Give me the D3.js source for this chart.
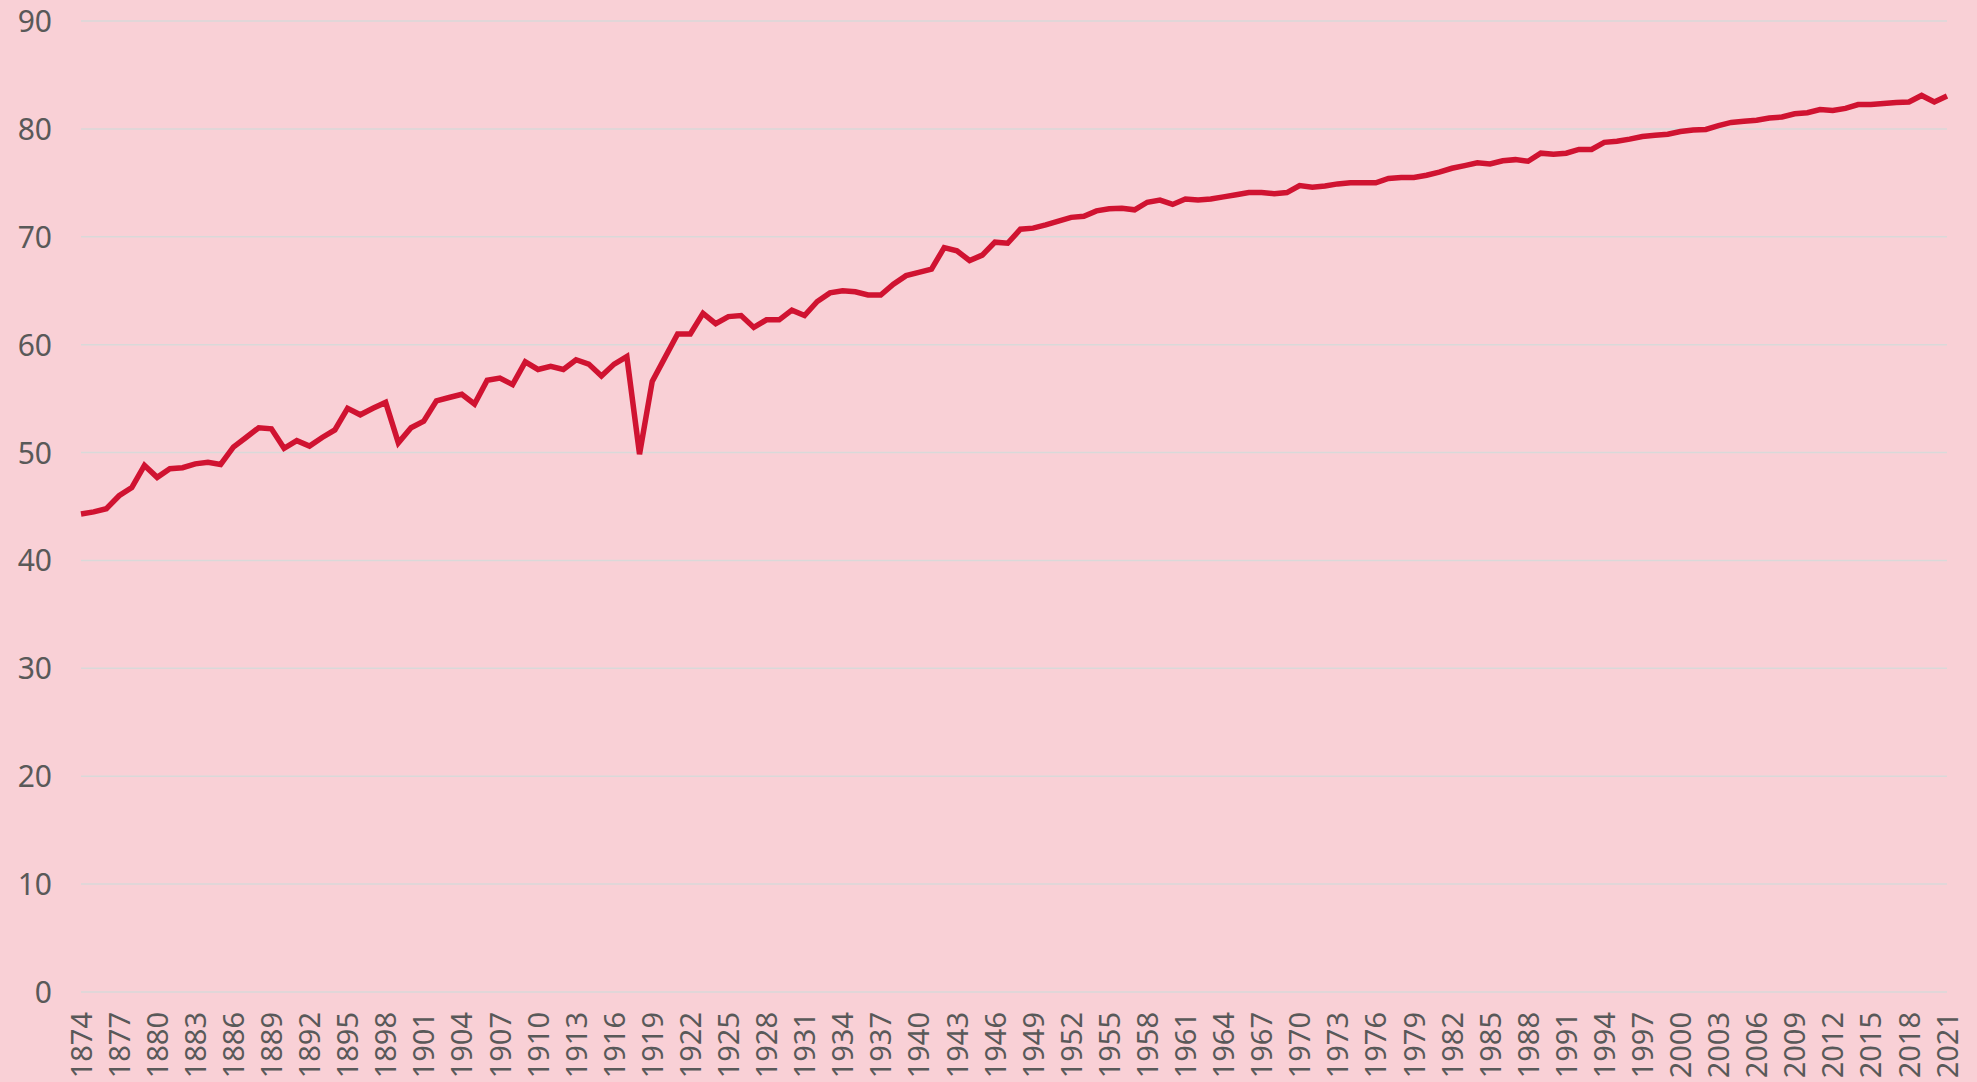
<!DOCTYPE html>
<html>
<head>
<meta charset="utf-8">
<script src="https://cdn.jsdelivr.net/npm/d3@7"></script>
<style>
  html, body { margin: 0; padding: 0; background: #F9D0D6; }
  svg { display: block; }
</style>
</head>
<body>
<svg id="chart" width="1977" height="1082"></svg>
<script>
const years = d3.range(1874, 2022);
const values = [
  44.3, 44.5, 44.8, 46.0, 46.75, 48.8, 47.7, 48.5, 48.6, 48.95,
  49.1, 48.9, 50.5, 51.4, 52.3, 52.2, 50.4, 51.1, 50.6, 51.4,
  52.1, 54.1, 53.5, 54.1, 54.65, 50.9, 52.3, 52.9, 54.8, 55.1,
  55.4, 54.5, 56.7, 56.9, 56.3, 58.4, 57.7, 58.0, 57.7, 58.6,
  58.2, 57.1, 58.2, 58.9, 49.85, 56.6, 58.8, 61.0, 61.0, 62.9,
  61.95, 62.6, 62.7, 61.6, 62.3, 62.3, 63.2, 62.7, 64.0, 64.8,
  65.0, 64.9, 64.6, 64.6, 65.6, 66.4, 66.7, 67.0, 69.0, 68.7,
  67.8, 68.3, 69.5, 69.4, 70.7, 70.8, 71.1, 71.45, 71.8, 71.9,
  72.4, 72.6, 72.65, 72.5, 73.2, 73.4, 73.0, 73.5, 73.4, 73.5,
  73.7, 73.9, 74.1, 74.1, 74.0, 74.1, 74.75, 74.6, 74.7, 74.9,
  75.0, 75.0, 75.0, 75.4, 75.5, 75.5, 75.7, 76.0, 76.35, 76.6,
  76.85, 76.75, 77.05, 77.15, 77.0, 77.75, 77.65, 77.75, 78.1, 78.1,
  78.75, 78.85, 79.05, 79.3, 79.4, 79.5, 79.75, 79.9, 79.95, 80.3,
  80.6, 80.7, 80.8, 81.0, 81.1, 81.4, 81.5, 81.8, 81.7, 81.9,
  82.25, 82.25, 82.35, 82.45, 82.5, 83.1, 82.5, 83.05
];
const yTicks = [0, 10, 20, 30, 40, 50, 60, 70, 80, 90];
const xTickYears = d3.range(1874, 2022, 3);

const svg = d3.select("#chart");
const plotLeft = 81, plotRight = 1947, plotTop = 21, plotBottom = 992;

const x = d3.scalePoint().domain(years).range([plotLeft, plotRight]).padding(0);
const y = d3.scaleLinear().domain([0, 90]).range([plotBottom, plotTop]);

const font = "'Noto Sans', 'Open Sans', sans-serif";

// gridlines
svg.append("g").selectAll("line").data(yTicks).join("line")
  .attr("x1", plotLeft).attr("x2", plotRight)
  .attr("y1", d => y(d)).attr("y2", d => y(d))
  .attr("stroke", "#D9D9D9").attr("stroke-width", 1.5);

// y axis labels
const yAxis = d3.axisLeft(y).tickValues(yTicks).tickSize(0).tickPadding(0);
const gy = svg.append("g").attr("transform", "translate(52,0)").call(yAxis);
gy.select(".domain").remove();
gy.selectAll("text")
  .attr("fill", "#595959").attr("font-family", font).attr("font-size", 30)
  .attr("text-anchor", "end").attr("dy", "0.35em");

// x axis labels
const xAxis = d3.axisBottom(x).tickValues(xTickYears).tickSize(0).tickPadding(0);
const gx = svg.append("g").attr("transform", `translate(0,${plotBottom})`).call(xAxis);
gx.select(".domain").remove();
gx.selectAll("text")
  .attr("fill", "#595959").attr("font-family", font).attr("font-size", 29)
  .attr("text-anchor", "end")
  .attr("transform", "translate(0,20) rotate(-90)")
  .attr("x", 0).attr("y", 0).attr("dy", "0.35em");

// line
const line = d3.line().x((d, i) => x(years[i])).y(d => y(d));
svg.append("path").datum(values)
  .attr("d", line)
  .attr("fill", "none")
  .attr("stroke", "#D01331")
  .attr("stroke-width", 5.5)
  .attr("stroke-linejoin", "miter");
</script>
</body>
</html>
